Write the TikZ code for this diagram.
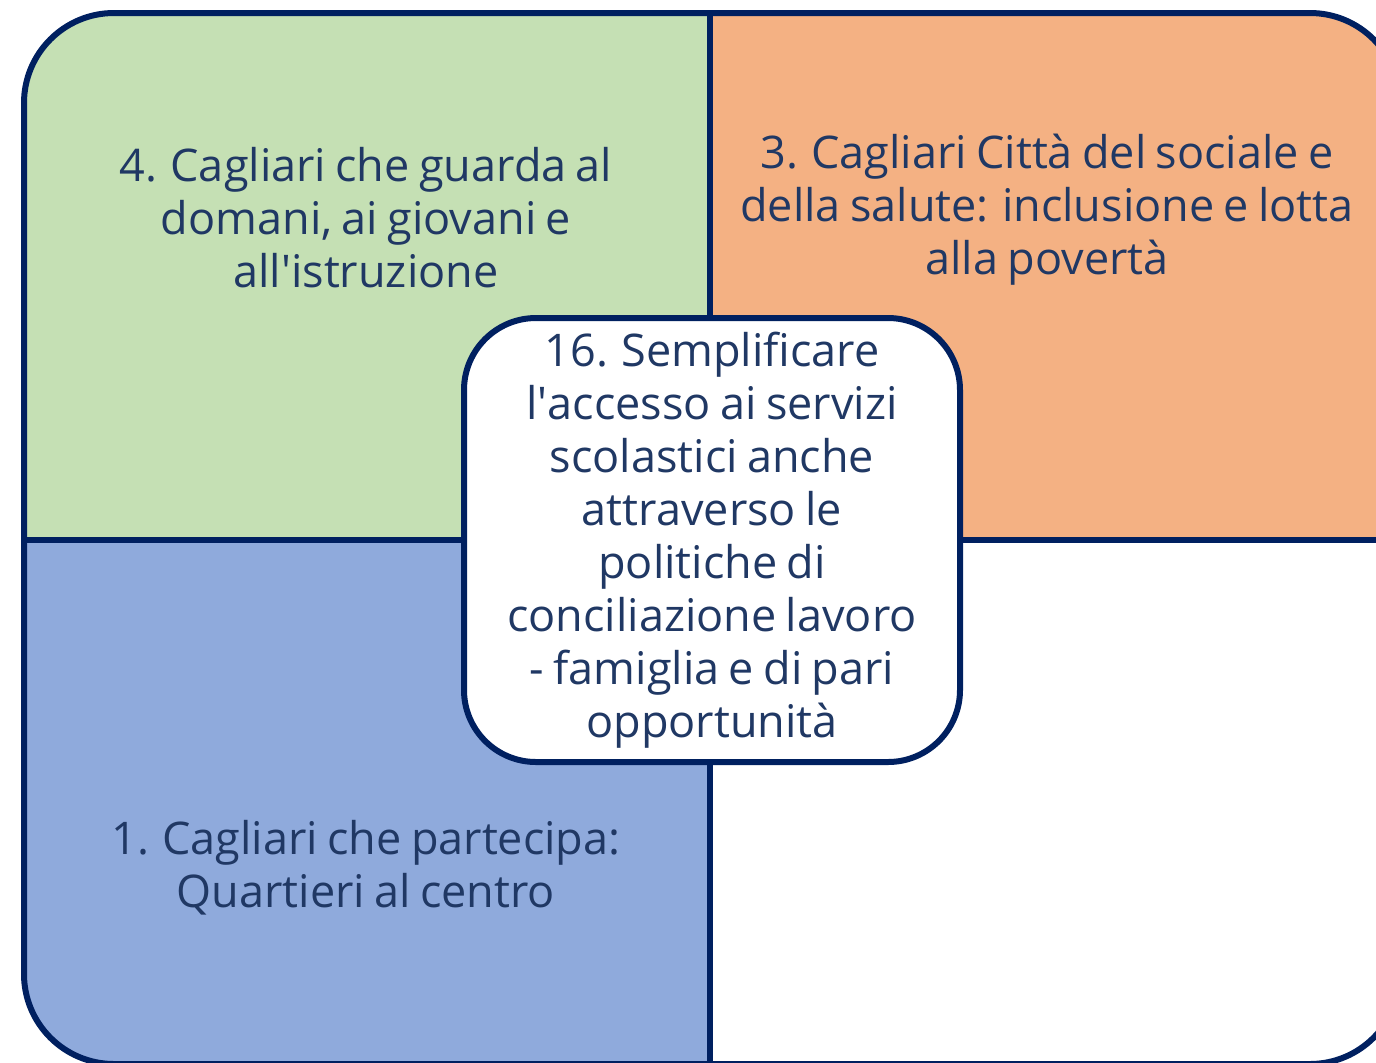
\documentclass[tikz,border=0pt]{standalone}
\usepackage{fontspec}
\setmainfont{Open Sans}[WordSpace=0.8]
\definecolor{navy}{HTML}{002060}
\definecolor{txtblue}{HTML}{203864}
\definecolor{qgreen}{HTML}{C5E0B4}
\definecolor{qorange}{HTML}{F4B183}
\definecolor{qblue}{HTML}{8FAADC}
\begin{document}
\begin{tikzpicture}[x=0.5pt,y=-0.5pt,
  frame/.style={draw=navy, line width=3pt},
  label/.style={text=txtblue, align=center, font=\fontsize{22.5}{26.5}\selectfont},
  hub/.style={label, draw=navy, line width=3pt, fill=white, rounded corners=36pt,
    minimum width=248pt, minimum height=222pt, inner sep=0pt}]
\useasboundingbox (0,0) rectangle (1376,1062);

% quadrants
\begin{scope}
\clip[rounded corners=45pt] (24,13) rectangle (1400,1064);
\fill[qgreen] (24,13) rectangle (710,540);
\fill[qorange] (710,13) rectangle (1400,540);
\fill[qblue] (24,540) rectangle (710,1064);
\end{scope}
\draw[frame, rounded corners=45pt] (24,13) rectangle (1400,1064);
\draw[frame] (710,13) -- (710,1064);
\draw[frame] (24,540) -- (1400,540);

\node[label] (q4) at (366,218) {4. Cagliari che guarda al\\domani, ai giovani e\\all\textquotesingle istruzione};
\node[label] (q3) at (1047,210) {3. Cagliari Città del sociale e\\della salute: inclusione e lotta\\alla povertà};
\node[label] (q1) at (366,868) {1. Cagliari che partecipa:\\Quartieri al centro};

\node[hub] (obj16) at (712,540) {16. Semplificare\\l\textquotesingle accesso ai servizi\\scolastici anche\\attraverso le\\politiche di\\conciliazione lavoro\\- famiglia e di pari\\opportunità};
\end{tikzpicture}
\end{document}
